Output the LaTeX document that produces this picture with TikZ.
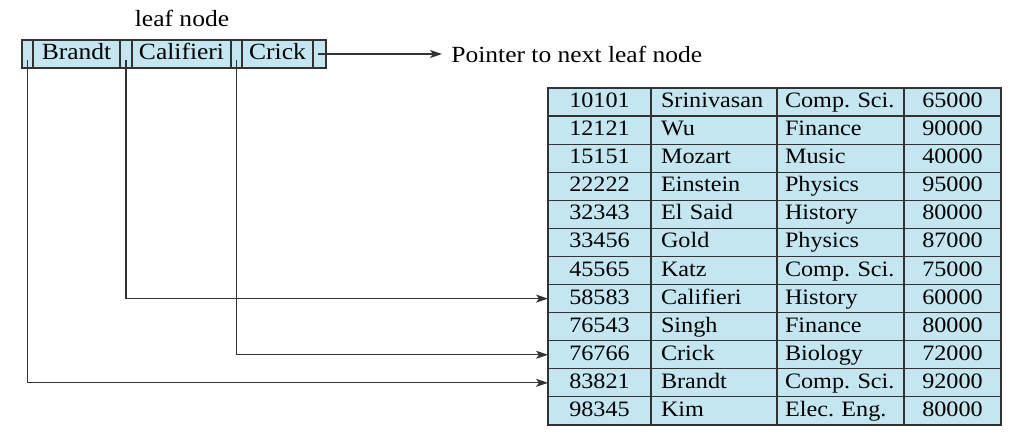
\documentclass[tikz,border=0pt]{standalone}
\usepackage{fontspec}
\setmainfont{Liberation Serif}[FakeStretch=1.1]
\frenchspacing
\usetikzlibrary{arrows.meta}
\definecolor{leafblue}{RGB}{196,230,240}
\definecolor{edge}{RGB}{50,50,50}
\tikzset{
	cell/.style={draw=edge, fill=leafblue, line width=0.6pt, inner sep=0pt, outer sep=0pt,
		anchor=west, text height=8pt, text depth=2.5pt},
	leafcell/.style={cell, minimum height=14pt, font=\fontsize{11.6}{14}\selectfont},
	rowcell/.style={cell, minimum height=14.04pt, font=\fontsize{11}{13}\selectfont},
	ptr/.style={draw=edge, line width=0.6pt, -{Stealth[length=6pt,width=4pt,inset=1.5pt]}}
}
\begin{document}
\begin{tikzpicture}[x=0.5pt,y=-0.5pt]
		\useasboundingbox (0,0) rectangle (1013,433);
		% leaf node
			\node [font=\fontsize{11.6}{14}\selectfont] (title) at (182,18) {leaf node};
			\node [leafcell, minimum width=5.5pt] (p1) at (22,54) {};
			\node [leafcell, minimum width=43.5pt] (k1) at (p1.east) {Brandt};
			\node [leafcell, minimum width=6pt] (p2) at (k1.east) {};
			\node [leafcell, minimum width=49.5pt] (k2) at (p2.east) {Califieri};
			\node [leafcell, minimum width=5.5pt] (p3) at (k2.east) {};
			\node [leafcell, minimum width=35.5pt] (k3) at (p3.east) {Crick};
			\node [leafcell, minimum width=6.5pt] (p4) at (k3.east) {};
		% next leaf
			\node [anchor=west, inner xsep=4.5pt, font=\fontsize{11.6}{14}\selectfont] (next) at (442,54) {Pointer to next leaf node};
			\draw [ptr] ([xshift=-1pt]p4.center) -- (next.west);
		% instructor file
			\def\rowh{28.08}
			\foreach \id/\name/\dept/\sal [count=\i] in {
				10101/Srinivasan/Comp. Sci./65000, 12121/Wu/Finance/90000,
				15151/Mozart/Music/40000, 22222/Einstein/Physics/95000,
				32343/El Said/History/80000, 33456/Gold/Physics/87000,
				45565/Katz/Comp. Sci./75000, 58583/Califieri/History/60000,
				76543/Singh/Finance/80000, 76766/Crick/Biology/72000,
				83821/Brandt/Comp. Sci./92000, 98345/Kim/Elec. Eng./80000}
			{
				\node [rowcell, minimum width=51.5pt] (id\i) at (548,{88+\rowh*(\i-0.5)}) {\id};
				\node [rowcell, inner xsep=5pt, text width=53pt, align=left] (name\i) at (id\i.east) {\name};
				\node [rowcell, inner xsep=4pt, text width=55.5pt, align=left] (dept\i) at (name\i.east) {\dept};
				\node [rowcell, minimum width=48.5pt] (sal\i) at (dept\i.east) {\sal};
			}
		% pointers into the file
			\draw [ptr] ([yshift=4pt]p1.south) |- (id11.west);
			\draw [ptr] ([yshift=4pt]p2.south) |- (id8.west);
			\draw [ptr] ([yshift=4pt]p3.south) |- (id10.west);
	\end{tikzpicture}
\end{document}
